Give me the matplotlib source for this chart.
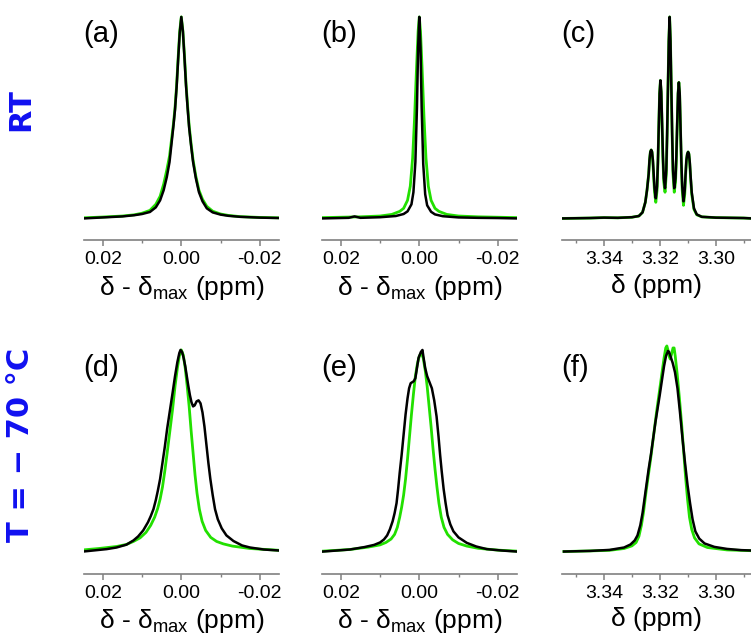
import numpy as np
import matplotlib
matplotlib.use("Agg")
import matplotlib.pyplot as plt
from matplotlib.ticker import MultipleLocator, FormatStrFormatter

plt.rcParams['font.family'] = ['Liberation Sans', 'DejaVu Sans']
plt.rcParams['mathtext.fontset'] = 'custom'
plt.rcParams['mathtext.rm'] = 'Liberation Sans'
plt.rcParams['axes.unicode_minus'] = False

# ---- data (ppm, normalised intensity) ----
# (a) RT, delta - delta_max
a_black_x = [0.025, 0.020, 0.015, 0.012, 0.010, 0.008, 0.0065, 0.0054, 0.0045, 0.0037, 0.0030, 0.0025,
             0.0020, 0.0016, 0.0012, 0.0008, 0.0004, 0.0, -0.0004, -0.0008, -0.0012, -0.0016, -0.0020,
             -0.0025, -0.0030, -0.0037, -0.0045, -0.0054, -0.0065, -0.008, -0.010, -0.012, -0.015,
             -0.020, -0.025]
a_black_y = [0.0, 0.005, 0.010, 0.016, 0.022, 0.032, 0.055, 0.09, 0.14, 0.205, 0.28, 0.37,
             0.46, 0.54, 0.65, 0.79, 0.92, 1.0, 0.93, 0.80, 0.66, 0.55, 0.45,
             0.36, 0.28, 0.20, 0.13, 0.085, 0.05, 0.030, 0.019, 0.013, 0.008,
             0.004, 0.002]
a_green_x = a_black_x
a_green_y = [0.003, 0.007, 0.012, 0.018, 0.026, 0.040, 0.07, 0.11, 0.17, 0.24, 0.31, 0.39,
             0.47, 0.55, 0.66, 0.80, 0.93, 1.0, 0.93, 0.81, 0.67, 0.56, 0.46,
             0.37, 0.29, 0.21, 0.14, 0.095, 0.06, 0.036, 0.022, 0.015, 0.009,
             0.005, 0.003]

# (b) RT, delta - delta_max
b_black_x = [0.025, 0.018, 0.0165, 0.015, 0.010, 0.006, 0.004, 0.003, 0.002, 0.0015, 0.0010, 0.0006,
             0.0003, 0.0, -0.0003, -0.0006, -0.0010, -0.0015, -0.002, -0.003, -0.004, -0.006,
             -0.010, -0.015, -0.020, -0.025]
b_black_y = [0.0, 0.003, 0.010, 0.003, 0.006, 0.012, 0.022, 0.035, 0.07, 0.13, 0.28, 0.55,
             0.85, 1.0, 0.85, 0.55, 0.27, 0.12, 0.065, 0.033, 0.02, 0.011,
             0.005, 0.003, 0.002, 0.0]
b_green_x = [0.025, 0.015, 0.010, 0.007, 0.005, 0.004, 0.003, 0.0023, 0.0017, 0.0012, 0.0007, 0.0003,
             0.0, -0.0003, -0.0007, -0.0012, -0.0017, -0.0023, -0.003, -0.004, -0.005, -0.007,
             -0.010, -0.015, -0.025]
b_green_y = [0.004, 0.008, 0.012, 0.02, 0.035, 0.05, 0.09, 0.16, 0.3, 0.5, 0.75, 0.93,
             1.0, 0.93, 0.75, 0.5, 0.3, 0.16, 0.09, 0.05, 0.035, 0.02,
             0.012, 0.008, 0.004]

# (c) RT, delta (quintet)
c_black_x = [3.355, 3.345, 3.340, 3.335, 3.330, 3.3275, 3.3262, 3.3252, 3.3246,
             3.3240, 3.3237, 3.3234, 3.3231, 3.3228, 3.3225, 3.3222, 3.3219, 3.32145,
             3.3210, 3.3207, 3.3204, 3.3201, 3.3198, 3.3195, 3.3192, 3.3189, 3.3186, 3.31815,
             3.3177, 3.3174, 3.3171, 3.3168, 3.3165, 3.3162, 3.3159, 3.3156, 3.3153, 3.31485,
             3.3144, 3.3141, 3.3138, 3.3135, 3.3132, 3.3129, 3.3126, 3.3123, 3.3120, 3.31155,
             3.3111, 3.3108, 3.3105, 3.3102, 3.3099, 3.3096, 3.3093, 3.3090, 3.3086,
             3.3078, 3.3068, 3.305, 3.300, 3.290, 3.287]
c_black_y = [0.0, 0.002, 0.004, 0.003, 0.006, 0.012, 0.03, 0.08, 0.14,
             0.22, 0.29, 0.33, 0.34, 0.33, 0.29, 0.22, 0.15, 0.10,
             0.16, 0.28, 0.45, 0.62, 0.685, 0.63, 0.47, 0.31, 0.20, 0.15,
             0.24, 0.42, 0.65, 0.88, 1.0, 0.88, 0.65, 0.42, 0.24, 0.15,
             0.20, 0.31, 0.47, 0.62, 0.675, 0.62, 0.45, 0.28, 0.16, 0.085,
             0.14, 0.22, 0.29, 0.32, 0.33, 0.32, 0.28, 0.21, 0.13,
             0.05, 0.02, 0.008, 0.004, 0.002, 0.0]
c_green_x = c_black_x
c_green_y = [0.0, 0.002, 0.004, 0.003, 0.006, 0.012, 0.03, 0.08, 0.14,
             0.22, 0.29, 0.33, 0.34, 0.33, 0.28, 0.20, 0.13, 0.08,
             0.14, 0.27, 0.45, 0.62, 0.685, 0.62, 0.46, 0.29, 0.18, 0.13,
             0.22, 0.41, 0.65, 0.88, 1.0, 0.88, 0.65, 0.41, 0.22, 0.13,
             0.18, 0.29, 0.46, 0.62, 0.675, 0.61, 0.44, 0.26, 0.14, 0.065,
             0.12, 0.21, 0.29, 0.32, 0.33, 0.32, 0.27, 0.20, 0.12,
             0.045, 0.018, 0.008, 0.004, 0.002, 0.0]

# (d) -70 C, delta - delta_max
d_black_x = [0.025, 0.022, 0.019, 0.0165, 0.014, 0.0122, 0.011, 0.0097, 0.0085, 0.0078, 0.0071,
             0.0065, 0.0060, 0.0054, 0.0048, 0.0042, 0.0036, 0.0029, 0.0022, 0.0016, 0.0010,
             0.0005, 0.0002, -0.0002, -0.0006, -0.0010, -0.0014, -0.0018, -0.0022, -0.0026,
             -0.0030, -0.0034, -0.0039, -0.0044, -0.0049, -0.0054, -0.0059, -0.0064, -0.0069,
             -0.0074, -0.0080, -0.0086, -0.0093, -0.0103, -0.0115, -0.0133, -0.0155, -0.0175,
             -0.021, -0.025]
d_black_y = [0.0, 0.006, 0.012, 0.02, 0.034, 0.055, 0.075, 0.105, 0.145, 0.175, 0.21,
             0.255, 0.30, 0.36, 0.44, 0.52, 0.61, 0.70, 0.79, 0.87, 0.94,
             0.985, 1.0, 0.99, 0.96, 0.92, 0.87, 0.82, 0.775, 0.74,
             0.72, 0.725, 0.745, 0.75, 0.735, 0.69, 0.62, 0.53, 0.44,
             0.36, 0.28, 0.21, 0.16, 0.115, 0.08, 0.052, 0.03, 0.02,
             0.01, 0.005]
d_green_x = [0.025, 0.021, 0.0165, 0.014, 0.0122, 0.0105, 0.0090, 0.0078, 0.0068, 0.0060, 0.0054,
             0.0048, 0.0042, 0.0036, 0.0029, 0.0022, 0.0016, 0.0010, 0.0005, 0.0, -0.0005,
             -0.0010, -0.0015, -0.0020, -0.0025, -0.0030, -0.0035, -0.0040, -0.0046, -0.0053,
             -0.0062, -0.0075, -0.0090, -0.0107, -0.013, -0.0175, -0.025]
d_green_y = [0.008, 0.015, 0.025, 0.035, 0.05, 0.068, 0.095, 0.13, 0.17, 0.215, 0.26,
             0.32, 0.40, 0.49, 0.60, 0.71, 0.82, 0.91, 0.97, 1.0, 0.975,
             0.91, 0.82, 0.72, 0.60, 0.49, 0.38, 0.29, 0.21, 0.15,
             0.105, 0.07, 0.05, 0.038, 0.027, 0.015, 0.006]

# (e) -70 C, delta - delta_max
e_black_x = [0.0245, 0.021, 0.0177, 0.014, 0.0115, 0.0100, 0.0090, 0.0082, 0.0075, 0.0068, 0.0063,
             0.0058, 0.0054, 0.0050, 0.0045, 0.0040, 0.0035, 0.0030, 0.0026, 0.0022, 0.0018,
             0.0014, 0.0010, 0.0006, 0.0002, -0.0004, -0.0008, -0.0011, -0.0015, -0.0020,
             -0.0026, -0.0032, -0.0038, -0.0044, -0.0049, -0.0053, -0.0057, -0.0062, -0.0067,
             -0.0072, -0.0079, -0.0087, -0.0100, -0.0121, -0.0145, -0.0172, -0.0210, -0.0248]
e_black_y = [0.0, 0.005, 0.01, 0.022, 0.033, 0.045, 0.06, 0.08, 0.11, 0.15, 0.19,
             0.24, 0.31, 0.39, 0.48, 0.58, 0.68, 0.76, 0.81, 0.835, 0.84,
             0.845, 0.86, 0.91, 0.96, 0.99, 1.0, 0.96, 0.91, 0.87,
             0.84, 0.81, 0.75, 0.67, 0.57, 0.48, 0.40, 0.31, 0.24,
             0.18, 0.135, 0.10, 0.07, 0.043, 0.025, 0.012, 0.005, 0.0]
e_green_x = [0.0245, 0.0177, 0.013, 0.0100, 0.0085, 0.0072, 0.0063, 0.0056, 0.0050, 0.0045, 0.0040,
             0.0035, 0.0030, 0.0025, 0.0020, 0.0015, 0.0010, 0.0005, 0.0, -0.0005, -0.0010,
             -0.0015, -0.0020, -0.0025, -0.0030, -0.0035, -0.0040, -0.0045, -0.0050, -0.0056,
             -0.0063, -0.0072, -0.0085, -0.0100, -0.0121, -0.0150, -0.0200, -0.0248]
e_green_y = [0.002, 0.01, 0.022, 0.033, 0.045, 0.062, 0.085, 0.12, 0.17, 0.22, 0.28,
             0.36, 0.46, 0.57, 0.68, 0.78, 0.87, 0.93, 0.97, 0.985, 0.96,
             0.90, 0.82, 0.72, 0.62, 0.51, 0.41, 0.32, 0.24, 0.17,
             0.12, 0.085, 0.058, 0.04, 0.027, 0.016, 0.007, 0.002]

# (f) -70 C, delta
f_black_x = [3.3543, 3.345, 3.338, 3.3328, 3.3305, 3.3290, 3.3280, 3.3270, 3.3262, 3.3256, 3.3248,
             3.3240, 3.3232, 3.3224, 3.3216, 3.3208, 3.3200, 3.3192, 3.3185, 3.3178, 3.3171,
             3.3167, 3.3161, 3.3154, 3.3146, 3.3137, 3.3128, 3.3119, 3.3110, 3.3101, 3.3092,
             3.3083, 3.3073, 3.3059, 3.3040, 3.3005, 3.2960, 3.2910, 3.2870]
f_black_y = [0.0, 0.003, 0.008, 0.02, 0.035, 0.055, 0.08, 0.13, 0.19, 0.25, 0.33,
             0.41, 0.48, 0.56, 0.64, 0.71, 0.78, 0.855, 0.92, 0.97, 0.995,
             0.99, 0.965, 0.935, 0.89, 0.81, 0.69, 0.56, 0.44, 0.33, 0.24,
             0.16, 0.10, 0.064, 0.04, 0.023, 0.013, 0.007, 0.005]
f_green_x = [3.3543, 3.345, 3.338, 3.3328, 3.3300, 3.3285, 3.3275, 3.3266, 3.3258, 3.3250, 3.3242,
             3.3232, 3.3222, 3.3212, 3.3202, 3.3193, 3.3185, 3.3179, 3.3175, 3.3171, 3.3167,
             3.3163, 3.3158, 3.3153, 3.3149, 3.3145, 3.3138, 3.3130, 3.3122, 3.3115, 3.3108,
             3.3101, 3.3094, 3.3086, 3.3076, 3.3060, 3.3030, 3.2960, 3.2870]
f_green_y = [0.0, 0.003, 0.006, 0.015, 0.028, 0.045, 0.075, 0.13, 0.20, 0.29, 0.37,
             0.47, 0.58, 0.69, 0.79, 0.88, 0.96, 1.01, 1.02, 1.0, 0.97,
             0.955, 0.98, 1.01, 1.01, 0.97, 0.88, 0.76, 0.63, 0.50, 0.37,
             0.26, 0.17, 0.11, 0.068, 0.038, 0.02, 0.008, 0.004]

panels = [
    ('(a)', a_black_x, a_black_y, a_green_x, a_green_y),
    ('(b)', b_black_x, b_black_y, b_green_x, b_green_y),
    ('(c)', c_black_x, c_black_y, c_green_x, c_green_y),
    ('(d)', d_black_x, d_black_y, d_green_x, d_green_y),
    ('(e)', e_black_x, e_black_y, e_green_x, e_green_y),
    ('(f)', f_black_x, f_black_y, f_green_x, f_green_y),
]

W, H = 751, 642
fig = plt.figure(figsize=(W / 100, H / 100), dpi=100)

lefts = [84, 322, 562]
widths = [195, 195, 189]
rows = [(0, 240), (330, 573.5)]   # top, axis line (pixels from top)
ylims = [(-0.107, 1.084), (-0.109, 1.099)]

axis_col = '#808080'
for i, (lab, bx, by, gx, gy) in enumerate(panels):
    r, c = divmod(i, 3)
    top, bot = rows[r]
    ax = fig.add_axes([lefts[c] / W, 1 - bot / H, widths[c] / W, (bot - top) / H])
    ax.plot(gx, gy, color='#22E000', lw=2.0, solid_joinstyle='round')
    ax.plot(bx, by, color='black', lw=1.8, solid_joinstyle='round')
    for s in ['left', 'right', 'top']:
        ax.spines[s].set_visible(False)
    ax.spines['bottom'].set_color(axis_col)
    ax.spines['bottom'].set_linewidth(1.2)
    ax.set_yticks([])
    ax.set_ylim(*ylims[r])
    if c < 2:
        ax.set_xlim(0.0248, -0.0249)
        ax.set_xlabel(r'δ - δ$_{\mathregular{max}}$ (ppm)', fontsize=19, labelpad=4)
    else:
        ax.set_xlim(3.355, 3.2874)
        ax.set_xlabel('δ (ppm)', fontsize=19, labelpad=4)
    ax.xaxis.set_major_locator(MultipleLocator(0.02))
    ax.xaxis.set_minor_locator(MultipleLocator(0.01))
    ax.xaxis.set_major_formatter(FormatStrFormatter('%.2f'))
    ax.tick_params(axis='x', which='major', length=4, width=1.1, color=axis_col,
                   labelsize=14, pad=4)
    ax.tick_params(axis='x', which='minor', length=2.5, width=1.0, color=axis_col)
    ax.patch.set_alpha(0)
    ly = 34 if r == 0 else 368
    fig.text((lefts[c] - 1) / W, 1 - ly / H, lab, fontsize=21, va='center', ha='left')

row_font = dict(color='#1010F0', fontsize=22, fontweight='bold', family='DejaVu Sans',
                rotation=90, ha='center', va='center')
fig.text(21 / W, 1 - 110 / H, 'RT', **row_font)
fig.text(21 / W, 1 - 445 / H, 'T = − 70 °C', **row_font)

fig.savefig('out.png', dpi=100)
